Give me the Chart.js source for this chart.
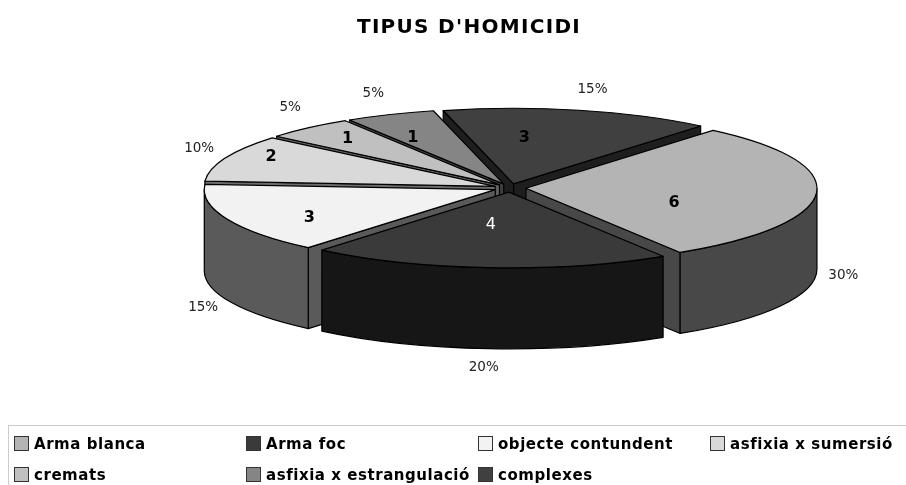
<!DOCTYPE html>
<html>
<head>
<meta charset="utf-8">
<script src="https://cdn.jsdelivr.net/npm/chart.js@4"></script>
<style>
  body { margin: 0; background: #fff; width: 906px; height: 485px; overflow: hidden; position: relative; }
  canvas { position: absolute; left: 0; top: 0; }
  #title { position: absolute; left: 0; width: 938px; top: 14px; text-align: center; font: bold 20px "DejaVu Sans", sans-serif; color: #000; letter-spacing: 1.3px; }
  #legend { position: absolute; left: 8px; top: 425px; width: 898px; height: 60px; border-top: 1.5px solid #ccc; border-left: 1.5px solid #ccc; box-sizing: border-box; }
  .item { position: absolute; font: bold 15px "DejaVu Sans", sans-serif; color: #000; white-space: nowrap; line-height: 16px; letter-spacing: 0.55px; }
  .item i { display: inline-block; width: 13px; height: 13px; border: 1px solid #333; margin-right: 5px; vertical-align: -2px; }
</style>
</head>
<body>
<canvas id="chart" width="906" height="485"></canvas>
<div id="title"></div>
<div id="legend"></div>
<script>
const chartTitle = "TIPUS D'HOMICIDI";
const categories = ['Arma blanca', 'Arma foc', 'objecte contundent', 'asfixia x sumersió', 'cremats', 'asfixia x estrangulació', 'complexes'];
const values = [6, 4, 3, 2, 1, 1, 3];

const topColors = ['#b4b4b4', '#3a3a3a', '#f2f2f2', '#d9d9d9', '#c0c0c0', '#858585', '#404040'];
const wallColors = ['#484848', '#161616', '#5a5a5a', '#6c6c6c', '#606060', '#404040', '#1e1e1e'];
const valueColors = ['#000', '#fff', '#000', '#000', '#000', '#000', '#000'];

// nudges from the slice's mid angle, the labels don't sit on a regular ring
const valueShift = [[-10, 12], [-7, -8], [-40, 12], [-77, -14], [-48, -15], [-29, -8], [-25, -6]];
const percentShift = [[43, 82], [-6, 104], [-39, 90], [-41, -11], [-29, -23], [-23, -25], [17, -25]];

const squash = 0.26;   // tilt of the pie
const depth = 81;      // wall height
const explode = 16;    // gap of each slice from the centre

function sliceGeom(arc) {
  const { x, y, startAngle, endAngle, outerRadius } = arc.getProps(['x', 'y', 'startAngle', 'endAngle', 'outerRadius']);
  const mid = (startAngle + endAngle) / 2;
  return {
    a0: startAngle, a1: endAngle, mid, r: outerRadius, cx0: x, cy0: y,
    cx: x + Math.cos(mid) * explode,
    cy: y + Math.sin(mid) * explode * squash
  };
}

function edgePoint(g, a) {
  return [g.cx + Math.cos(a) * g.r, g.cy + Math.sin(a) * g.r * squash];
}

function drawRadialWall(ctx, g, a, color) {
  const p = edgePoint(g, a);
  ctx.beginPath();
  ctx.moveTo(g.cx, g.cy);
  ctx.lineTo(p[0], p[1]);
  ctx.lineTo(p[0], p[1] + depth);
  ctx.lineTo(g.cx, g.cy + depth);
  ctx.closePath();
  ctx.fillStyle = color;
  ctx.fill();
  ctx.stroke();
}

function drawOuterWall(ctx, g, color) {
  // only the part of the rim between 0 and PI faces the viewer
  for (let k = -1; k <= 1; k++) {
    const from = Math.max(g.a0, k * 2 * Math.PI);
    const to = Math.min(g.a1, k * 2 * Math.PI + Math.PI);
    if (to <= from) continue;
    ctx.beginPath();
    ctx.ellipse(g.cx, g.cy, g.r, g.r * squash, 0, from, to);
    ctx.ellipse(g.cx, g.cy + depth, g.r, g.r * squash, 0, to, from, true);
    ctx.closePath();
    ctx.fillStyle = color;
    ctx.fill();
    ctx.stroke();
  }
}

const pie3d = {
  id: 'pie3d',
  beforeDatasetDraw(chart, args) {
    const ctx = chart.ctx;
    const arcs = args.meta.data;
    const geoms = arcs.map(sliceGeom);

    const order = arcs.map((_, i) => i).sort((a, b) => Math.sin(geoms[a].mid) - Math.sin(geoms[b].mid));
    ctx.save();
    ctx.strokeStyle = '#000';
    ctx.lineWidth = 1.2;
    ctx.lineJoin = 'round';
    order.forEach(i => {
      const g = geoms[i];
      if (Math.cos(g.a0) < 0) drawRadialWall(ctx, g, g.a0, wallColors[i]);
      if (Math.cos(g.a1) > 0) drawRadialWall(ctx, g, g.a1, wallColors[i]);
      drawOuterWall(ctx, g, wallColors[i]);
    });

    // top faces: the library's own arcs, squashed flat
    order.forEach(i => {
      const g = geoms[i];
      ctx.save();
      ctx.translate(g.cx, g.cy);
      ctx.scale(1, squash);
      ctx.translate(-g.cx0, -g.cy0);
      arcs[i].draw(ctx);
      ctx.restore();
      const p0 = edgePoint(g, g.a0);
      ctx.beginPath();
      ctx.moveTo(g.cx, g.cy);
      ctx.lineTo(p0[0], p0[1]);
      ctx.ellipse(g.cx, g.cy, g.r, g.r * squash, 0, g.a0, g.a1);
      ctx.closePath();
      ctx.stroke();
    });
    ctx.restore();
    return false;
  },
  afterDatasetsDraw(chart) {
    const ctx = chart.ctx;
    const arcs = chart.getDatasetMeta(0).data;
    const total = values.reduce((a, b) => a + b, 0);
    ctx.save();
    ctx.textAlign = 'center';
    ctx.textBaseline = 'middle';
    arcs.forEach((arc, i) => {
      const g = sliceGeom(arc);
      const mx = g.cx0 + Math.cos(g.mid) * g.r;
      const my = g.cy0 + Math.sin(g.mid) * g.r * squash;
      ctx.font = '13.5px "DejaVu Sans", sans-serif';
      ctx.fillStyle = '#222';
      ctx.fillText(Math.round(values[i] / total * 100) + '%', mx + percentShift[i][0], my + percentShift[i][1]);

      ctx.font = (i === 1 ? '' : 'bold ') + '16px "DejaVu Sans", sans-serif';
      ctx.fillStyle = valueColors[i];
      const vx = g.cx0 + Math.cos(g.mid) * g.r * 0.6;
      const vy = g.cy0 + Math.sin(g.mid) * g.r * 0.6 * squash;
      ctx.fillText(String(values[i]), vx + valueShift[i][0], vy + valueShift[i][1]);
    });
    ctx.restore();
  }
};

new Chart(document.getElementById('chart').getContext('2d'), {
  type: 'pie',
  data: {
    labels: categories,
    datasets: [{
      data: values,
      backgroundColor: topColors,
      borderWidth: 0,
      clip: false
    }]
  },
  options: {
    responsive: false,
    animation: false,
    rotation: 40,
    radius: 291,
    layout: { padding: { left: 114, bottom: 109 } },
    plugins: { legend: { display: false }, tooltip: { enabled: false }, title: { display: false } },
    events: []
  },
  plugins: [pie3d]
});

document.getElementById('title').textContent = chartTitle;

// legend is laid out by hand in the 4 column grid of the original
const legend = document.getElementById('legend');
const colX = [5, 237, 469, 701];
const rowY = [10, 41];
categories.forEach((name, i) => {
  const item = document.createElement('div');
  item.className = 'item';
  item.style.left = colX[i % 4] + 'px';
  item.style.top = rowY[Math.floor(i / 4)] + 'px';
  const box = document.createElement('i');
  box.style.background = topColors[i];
  item.appendChild(box);
  item.appendChild(document.createTextNode(name));
  legend.appendChild(item);
});
</script>
</body>
</html>
